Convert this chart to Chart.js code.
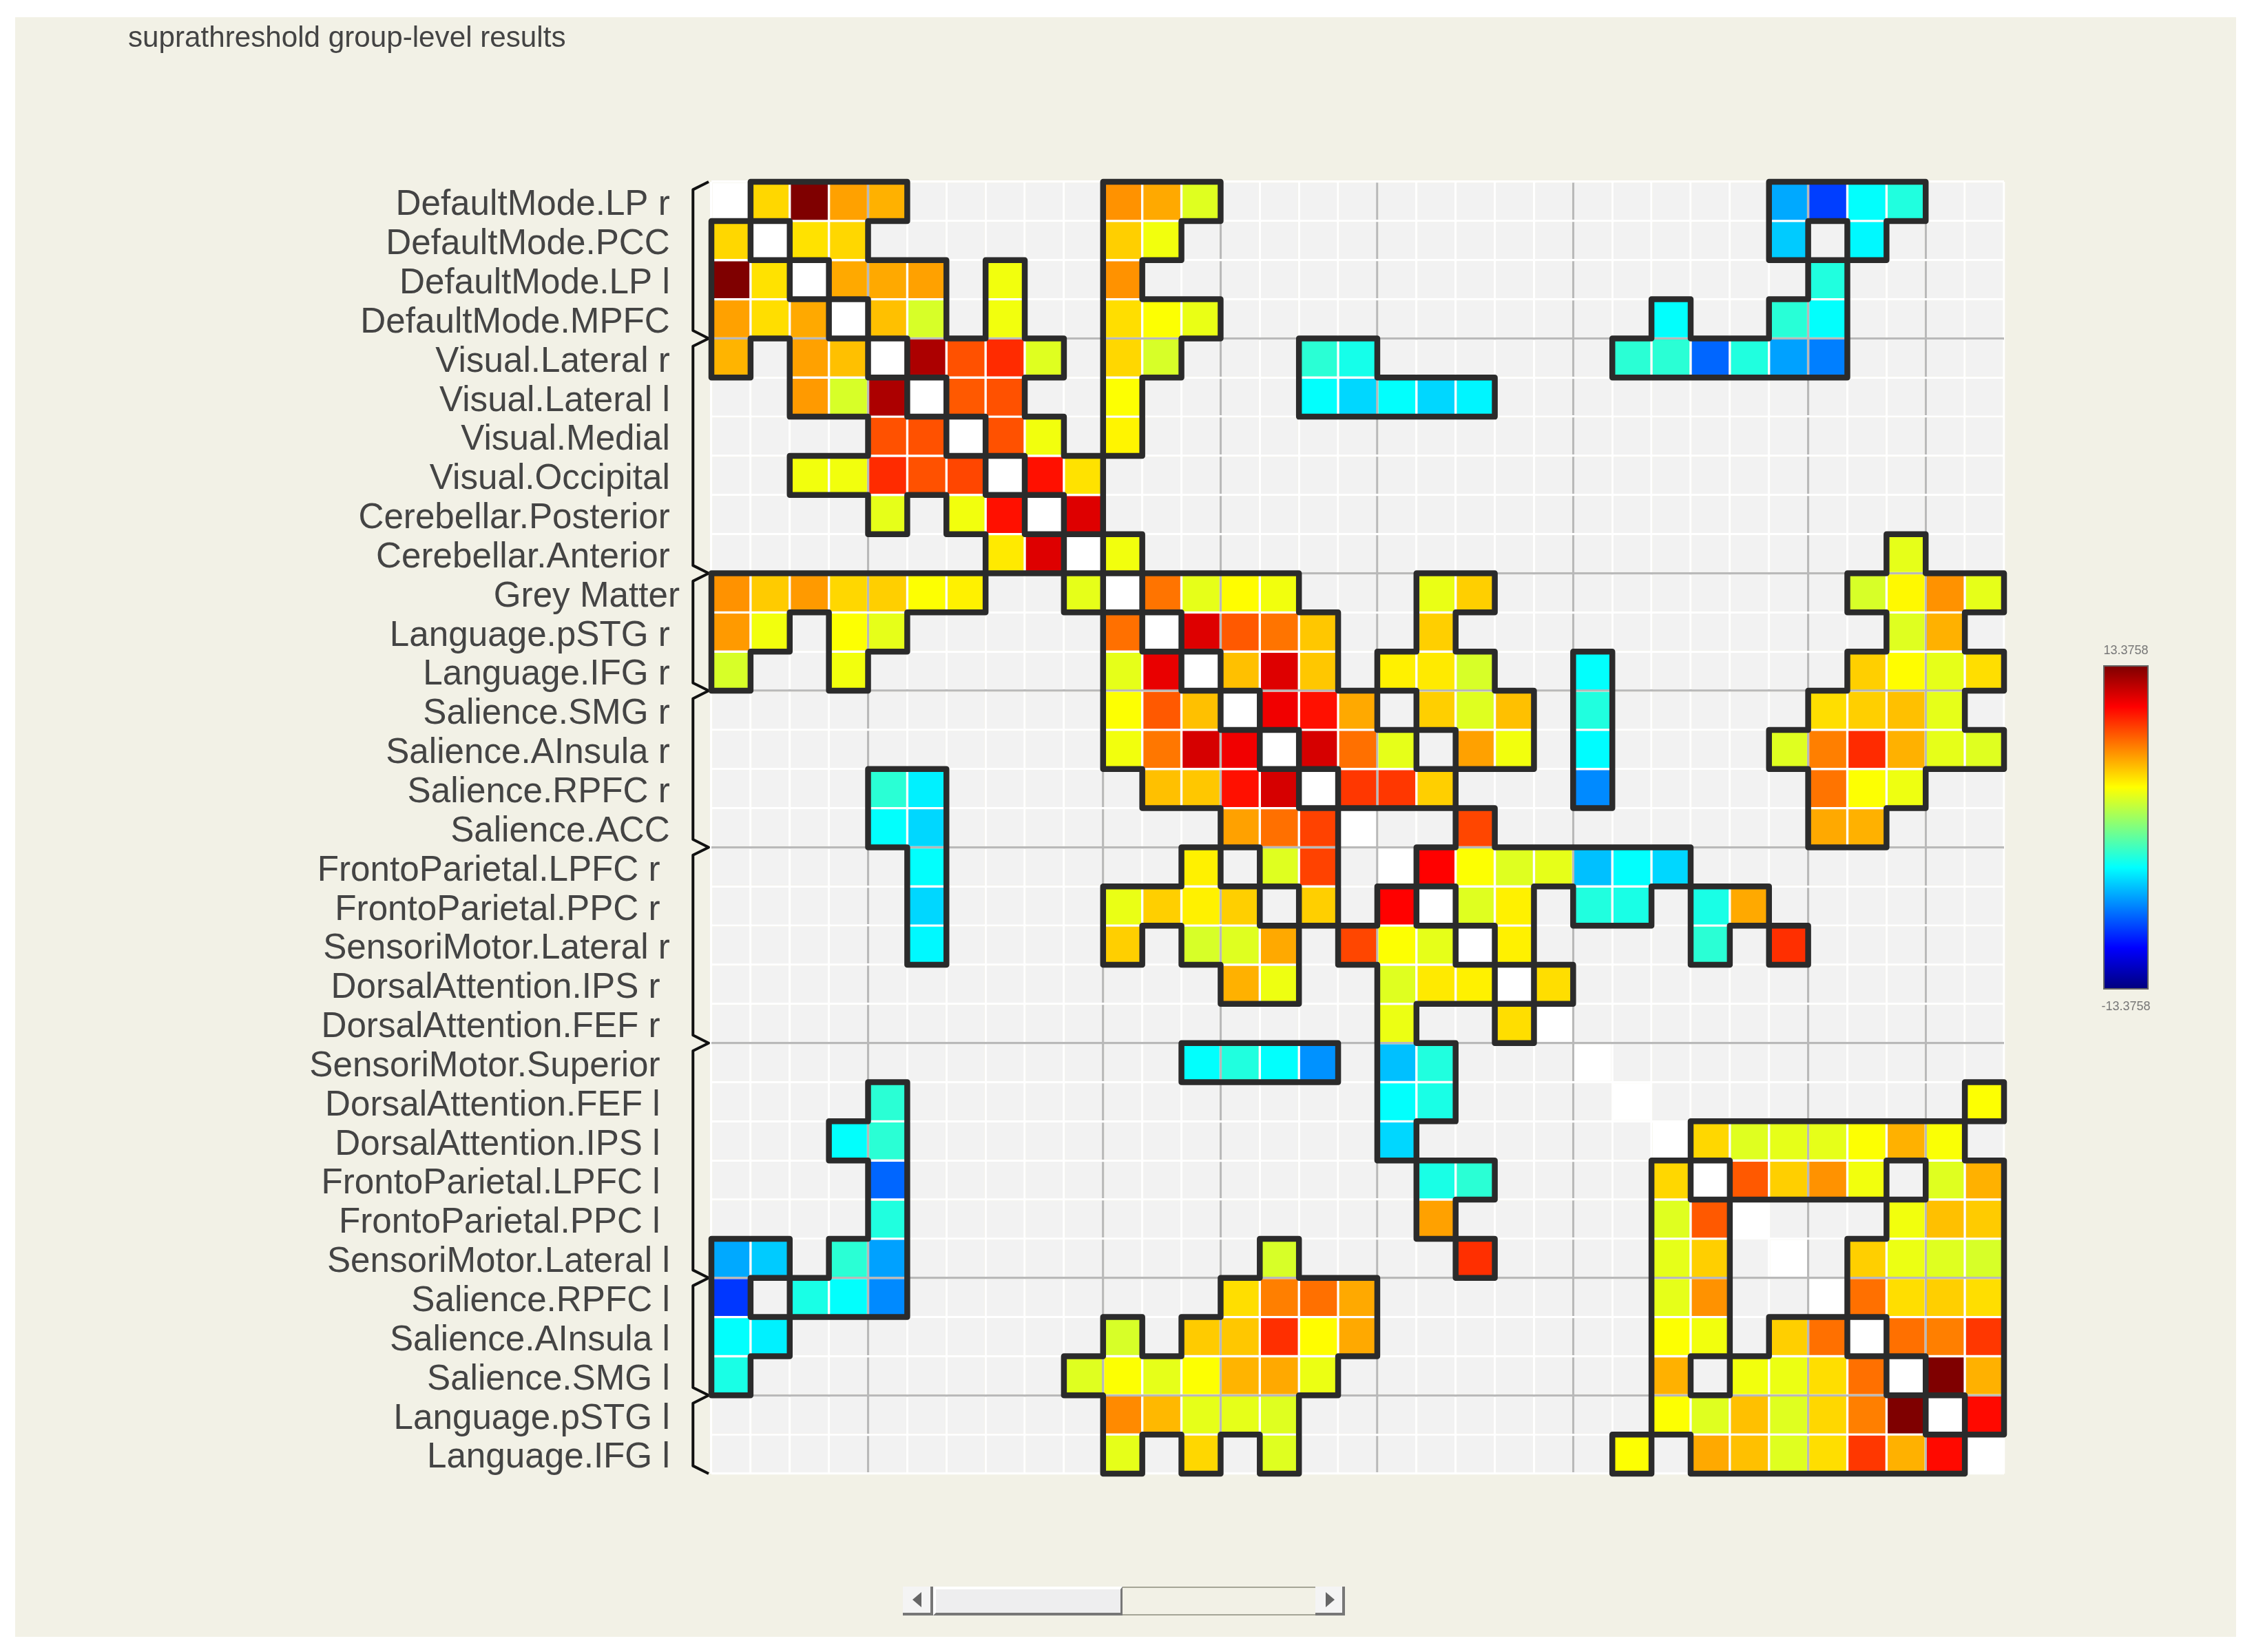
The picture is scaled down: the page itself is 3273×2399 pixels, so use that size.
<!DOCTYPE html>
<html>
<head>
<meta charset="utf-8">
<title>suprathreshold group-level results</title>
<script src="https://cdn.jsdelivr.net/npm/chart.js@4"></script>
<style>
	html, body { margin: 0; padding: 0; background: #ffffff; }
	#panel { position: absolute; left: 22px; top: 25px; width: 3225px; height: 2352px; background: #f2f1e6; }
	#graph { position: absolute; left: 0; top: 0; }
	#colorbar { position: absolute; left: 3054px; top: 966px; width: 62px; height: 467px; border: 2px solid #666666; }
	.bar_label { position: absolute; left: 2987px; width: 200px; text-align: center; font: 18px "Liberation Sans"; color: #777777; }
	.sb { position: absolute; box-sizing: border-box; }
	.arrow { position: absolute; width: 0; height: 0; border-top: 11px solid transparent; border-bottom: 11px solid transparent; }
</style>
</head>
<body>
<div id="panel"></div>
<canvas id="graph" width="3273" height="2399"></canvas>
<div id="colorbar"></div>
<div class="bar_label" id="bar_max" style="top: 934px;"></div>
<div class="bar_label" id="bar_min" style="top: 1451px;"></div>
<div class="sb" style="left: 1311px; top: 2304px; width: 44px; height: 42px; background: #f4f4f4; border-right: 4px solid #777777; border-bottom: 4px solid #777777;"><div class="arrow" style="left: 14px; top: 8px; border-right: 13px solid #666666;"></div></div>
<div class="sb" style="left: 1355px; top: 2304px; width: 275px; height: 42px; background: #eeeeef; border-top: 4px solid #ffffff; border-left: 4px solid #ffffff; border-right: 3px solid #777777; border-bottom: 4px solid #777777;"></div>
<div class="sb" style="left: 1630px; top: 2304px; width: 280px; height: 42px; border-top: 2px solid #a5a596; border-bottom: 2px solid #a5a596;"></div>
<div class="sb" style="left: 1910px; top: 2304px; width: 43px; height: 42px; background: #f4f4f4; border-right: 4px solid #777777; border-bottom: 4px solid #777777;"><div class="arrow" style="left: 15px; top: 8px; border-left: 13px solid #666666;"></div></div>
<script>
// Colour range of the bar on the right
var value_max = 13.3758;

// Row names, the trailing spaces are in the original labels
var row_labels = [
	"DefaultMode.LP r ", "DefaultMode.PCC ", "DefaultMode.LP l ", "DefaultMode.MPFC ",
	"Visual.Lateral r ", "Visual.Lateral l ", "Visual.Medial ", "Visual.Occipital ",
	"Cerebellar.Posterior ", "Cerebellar.Anterior ", "Grey Matter",
	"Language.pSTG r ", "Language.IFG r ",
	"Salience.SMG r ", "Salience.AInsula r ", "Salience.RPFC r ", "Salience.ACC ",
	"FrontoParietal.LPFC r  ", "FrontoParietal.PPC r  ", "SensoriMotor.Lateral r ",
	"DorsalAttention.IPS r  ", "DorsalAttention.FEF r  ", "SensoriMotor.Superior  ",
	"DorsalAttention.FEF l  ", "DorsalAttention.IPS l  ", "FrontoParietal.LPFC l  ",
	"FrontoParietal.PPC l  ", "SensoriMotor.Lateral l ",
	"Salience.RPFC l ", "Salience.AInsula l ", "Salience.SMG l ",
	"Language.pSTG l ", "Language.IFG l "
];

// Where one network ends and the next one starts
var group_breaks = [4, 10, 13, 17, 22, 28, 31];

// 0 is below threshold (grey), null is the white diagonal
var cell_values = [
	[null,4.4,13.4,5.8, 5.4,0,0,0,0,0, 6.2,5.6,2.5, 0,0,0,0, 0,0,0,0,0, 0,0,0,0,0,-5.6, -8.4,-3.3,-2.5, 0,0],
	[4.4,null,4.1,4.4, 0,0,0,0,0,0, 4.6,3,0, 0,0,0,0, 0,0,0,0,0, 0,0,0,0,0,-4.7, 0,-3.5,0, 0,0],
	[13.4,4.1,null,5.6, 5.6,5.8,0,3,0,0, 6.2,0,0, 0,0,0,0, 0,0,0,0,0, 0,0,0,0,0,0, -2.5,0,0, 0,0],
	[5.8,4.2,5.6,null, 5,2.3,0,3,0,0, 4.2,3.3,2.8, 0,0,0,0, 0,0,0,0,0, 0,0,-3.3,0,0,-2.3, -3.3,0,0, 0,0],
	[5.3,0,5.8,5, null,12.2,7.9,8.9,2.5,0, 4.4,2.3,0, 0,0,-2.25,-2.8, 0,0,0,0,0, 0,-2.25,-2.25,-7.35,-2.5,-5.8, -6.7,0,0, 0,0],
	[0,0,6,2.3, 12.2,null,7.7,7.9,0,0, 3.3,0,0, 0,0,-3.3,-4.4, -3.3,-4.4,-3.6,0,0, 0,0,0,0,0,0, 0,0,0, 0,0],
	[0,0,0,0, 7.9,7.9,null,7.9,3,0, 3.6,0,0, 0,0,0,0, 0,0,0,0,0, 0,0,0,0,0,0, 0,0,0, 0,0],
	[0,0,3,3, 8.9,7.9,8.2,null,9.6,4.1, 0,0,0, 0,0,0,0, 0,0,0,0,0, 0,0,0,0,0,0, 0,0,0, 0,0],
	[0,0,0,0, 2.7,0,3,9.6,null,10.9, 0,0,0, 0,0,0,0, 0,0,0,0,0, 0,0,0,0,0,0, 0,0,0, 0,0],
	[0,0,0,0, 0,0,0,3.9,10.9,null, 3,0,0, 0,0,0,0, 0,0,0,0,0, 0,0,0,0,0,0, 0,0,2.7, 0,0],
	[6.2,4.7,6,4.4, 4.6,3.3,3.7,0,0,2.7, null,7,2.7, 3.4,3,0,0, 0,2.8,4.6,0,0, 0,0,0,0,0,0, 0,2.3,3.5, 6.2,2.7],
	[6,3,0,3.3, 2.7,0,0,0,0,0, 7.1,null,10.9, 7.7,7,4.8,0, 0,4.6,0,0,0, 0,0,0,0,0,0, 0,0,2.5, 5.4,0],
	[2.3,0,0,3, 0,0,0,0,0,0, 2.7,10.6,null, 5,10.9,4.8,0, 3.7,3.9,2.3,0,0, -3.3,0,0,0,0,0, 0,4.6,3.4, 2.7,4.2],
	[0,0,0,0, 0,0,0,0,0,0, 3.3,7.7,5, null,10.4,9.6,5.6, 0,4.6,2.5,5,0, -2.5,0,0,0,0,0, 4.2,4.6,5, 2.7,0],
	[0,0,0,0, 0,0,0,0,0,0, 3,6.9,11.1, 10.4,null,11.1,7.1, 2.7,0,5.8,3,0, -3.4,0,0,0,0,2.5, 6.7,8.9,5.4, 2.7,2.5],
	[0,0,0,0, -2.25,-3.7,0,0,0,0, 0,5,4.8, 9.6,11.1,null,8.6, 8.6,4.6,0,0,0, -6.4,0,0,0,0,0, 7,3.3,2.9, 0,0],
	[0,0,0,0, -3.3,-4.4,0,0,0,0, 0,0,0, 5.8,7.1,8.3,null, 0,0,8.2,0,0, 0,0,0,0,0,0, 5.6,5.4,0, 0,0],
	[0,0,0,0, 0,-3.3,0,0,0,0, 0,0,3.7, 0,2.5,8.3,0, null,10,3.3,2.5,2.7, -5,-3.3,-4.4,0,0,0, 0,0,0, 0,0],
	[0,0,0,0, 0,-4.4,0,0,0,0, 2.8,4.6,3.7, 4.6,0,4.6,0, 10,null,2.5,3.7,0, -2.5,-2.7,0,-2.7,5.6,0, 0,0,0, 0,0],
	[0,0,0,0, 0,-3.5,0,0,0,0, 4.6,0,2.3, 2.5,5.6,0,8.2, 3.3,2.7,null,3.7,0, 0,0,0,-2.25,0,8.8, 0,0,0, 0,0],
	[0,0,0,0, 0,0,0,0,0,0, 0,0,0, 5.4,2.9,0,0, 2.5,3.9,3.7,null,4.2, 0,0,0,0,0,0, 0,0,0, 0,0],
	[0,0,0,0, 0,0,0,0,0,0, 0,0,0, 0,0,0,0, 2.85,0,0,4.2,null, 0,0,0,0,0,0, 0,0,0, 0,0],
	[0,0,0,0, 0,0,0,0,0,0, 0,0,-3.3, -2.5,-3.3,-6.2,0, -5,-2.5,0,0,0, null,0,0,0,0,0, 0,0,0, 0,0],
	[0,0,0,0, -2.25,0,0,0,0,0, 0,0,0, 0,0,0,0, -3.3,-2.7,0,0,0, 0,null,0,0,0,0, 0,0,0, 0,3.3],
	[0,0,0,-3.3, -2.25,0,0,0,0,0, 0,0,0, 0,0,0,0, -4.4,0,0,0,0, 0,0,null,4.4,2.5,2.7, 2.7,3.3,5.4, 3.2,0],
	[0,0,0,0, -7.35,0,0,0,0,0, 0,0,0, 0,0,0,0, 0,-2.7,-2.25,0,0, 0,0,4.4,null,7.7,4.6, 6.2,3,0, 2.5,5.4],
	[0,0,0,0, -2.5,0,0,0,0,0, 0,0,0, 0,0,0,0, 0,5.8,0,0,0, 0,0,2.5,7.7,null,0, 0,0,3, 5,4.7],
	[-5.6,-4.7,0,-2.25, -5.8,0,0,0,0,0, 0,0,0, 0,2.3,0,0, 0,0,8.8,0,0, 0,0,2.7,4.6,0,null, 0,4.6,2.85, 2.5,2.3],
	[-8.6,0,-2.7,-3.3, -6.4,0,0,0,0,0, 0,0,0, 4.2,6.7,7.1,5.6, 0,0,0,0,0, 0,0,2.7,6.2,0,0, null,7.1,4.2, 4.6,4.2],
	[-3.3,-3.7,0,0, 0,0,0,0,0,0, 2.3,0,4.7, 4.8,8.8,3.4,5.6, 0,0,0,0,0, 0,0,3.3,3,0,4.6, 7.1,null,7.1, 6.7,8.6],
	[-2.7,0,0,0, 0,0,0,0,0,2.5, 3.3,2.7,3.3, 5.3,5.6,2.85,0, 0,0,0,0,0, 0,0,5.4,0,3,2.85, 4.2,7.1,null, 13.4,5.4],
	[0,0,0,0, 0,0,0,0,0,0, 6.4,5.2,2.7, 2.7,2.5,0,0, 0,0,0,0,0, 0,0,3.3,2.5,5,2.5, 4.4,6.7,13.4, null,9.8],
	[0,0,0,0, 0,0,0,0,0,0, 2.7,0,4.4, 0,2.5,0,0, 0,0,0,0,0, 0,3.3,0,5.6,5,2.5, 4.2,8.6,5.4, 9.8,null]
];

var n = row_labels.length;

// Jet colormap, same as the bar on the right
function jet(value) {
	var t = (value + value_max) / (2 * value_max);
	var channel = (centre) => Math.round(255 * Math.min(1, Math.max(0, 1.5 - Math.abs(4 * t - centre))));
	return "rgb(" + channel(3) + "," + channel(2) + "," + channel(1) + ")";
}

function cellColor(value) {
	if (value === null) return "#ffffff";
	if (value === 0) return "#f2f2f2";
	return jet(value);
}

function isSignificant(row, col) {
	if (row < 0 || col < 0 || row >= n || col >= n) return false;
	var value = cell_values[row][col];
	return value !== null && value !== 0;
}

// Cells
var cell_points = [];
var cell_colors = [];
cell_values.forEach((values, row) => {
	values.forEach((value, col) => {
		cell_points.push({ x: col + 0.5, y: row + 0.5 });
		cell_colors.push(cellColor(value));
	});
});

// Outline runs along every edge between a suprathreshold cell and anything else
var outline_points = [];
function addEdge(x1, y1, x2, y2) {
	outline_points.push({ x: x1, y: y1 }, { x: x2, y: y2 }, { x: NaN, y: NaN });
}
for (var row = 0; row < n; row++) {
	for (var col = 0; col < n; col++) {
		if (!isSignificant(row, col)) continue;
		if (!isSignificant(row - 1, col)) addEdge(col, row, col + 1, row);
		if (!isSignificant(row + 1, col)) addEdge(col, row + 1, col + 1, row + 1);
		if (!isSignificant(row, col - 1)) addEdge(col, row, col, row + 1);
		if (!isSignificant(row, col + 1)) addEdge(col + 1, row, col + 1, row + 1);
	}
}

// Curly brace left of the rows, one tip per break
var brace_tip = -0.07;
var brace_back = -0.47;
var brace_points = [{ x: brace_tip, y: 0 }, { x: brace_back, y: 0.2 }];
group_breaks.forEach((at) => {
	brace_points.push({ x: brace_back, y: at - 0.2 }, { x: brace_tip, y: at }, { x: brace_back, y: at + 0.2 });
});
brace_points.push({ x: brace_back, y: n - 0.2 }, { x: brace_tip, y: n });

function gridColor(ctx) {
	return ctx.tick && group_breaks.includes(ctx.tick.value) ? "#b9b9b9" : "#ffffff";
}

var graph = new Chart(document.getElementById("graph").getContext("2d"), {
	type: "scatter",
	data: {
		datasets: [
			{
				label: "outline",
				data: outline_points,
				showLine: true,
				order: 0,
				clip: false,
				borderColor: "#2b2b2b",
				borderWidth: 8.5,
				borderCapStyle: "round",
				pointRadius: 0
			},
			{
				label: "groups",
				data: brace_points,
				showLine: true,
				order: 1,
				clip: false,
				borderColor: "#111111",
				borderWidth: 4,
				borderJoinStyle: "round",
				pointRadius: 0
			},
			{
				label: "cells",
				data: cell_points,
				order: 2,
				pointStyle: "rect",
				pointRadius: 37.8,
				pointBorderWidth: 0,
				pointBackgroundColor: cell_colors
			}
		]
	},
	options: {
		responsive: false,
		animation: false,
		layout: {
			padding: { left: 186, right: 363, top: 0, bottom: 259 }
		},
		plugins: {
			legend: { display: false },
			tooltip: { enabled: false },
			title: {
				display: true,
				text: "suprathreshold group-level results",
				align: "start",
				color: "#444444",
				font: { family: "Liberation Sans", size: 42.2, weight: "normal" },
				padding: { top: 31, bottom: 182.4 }
			}
		},
		scales: {
			x: {
				type: "linear",
				position: "bottom",
				min: 0,
				max: n,
				afterFit: (axis) => { axis.height = 0; },
				border: { display: false },
				ticks: { display: false, stepSize: 1, autoSkip: false },
				grid: { color: gridColor, lineWidth: 3.3, drawTicks: false }
			},
			y: {
				type: "linear",
				position: "right",
				min: 0,
				max: n,
				reverse: true,
				afterFit: (axis) => { axis.width = 0; },
				border: { display: false },
				ticks: { display: false, stepSize: 1, autoSkip: false },
				grid: { color: gridColor, lineWidth: 3.3, drawTicks: false }
			},
			row_names: {
				type: "linear",
				position: "left",
				min: 0,
				max: n,
				reverse: true,
				// The names sit a little under the middle of their row
				afterBuildTicks: (axis) => {
					axis.ticks = row_labels.map((label, i) => ({ value: i + 0.6 }));
				},
				afterFit: (axis) => { axis.width = 847; },
				border: { display: false },
				grid: { display: false, drawTicks: false },
				ticks: {
					autoSkip: false,
					maxRotation: 0,
					padding: 46,
					color: "#444444",
					font: { family: "Liberation Sans", size: 51.2 },
					callback: function(value, index) {
						return row_labels[index];
					}
				}
			}
		}
	}
});

// Colour bar, top is the maximum
var jet_stops = [value_max, value_max * 0.75, value_max * 0.25, -value_max * 0.25, -value_max * 0.75, -value_max];
document.getElementById("colorbar").style.background = "linear-gradient(to bottom, " +
	jet_stops.map((v) => jet(v) + " " + (50 - v / value_max * 50) + "%").join(", ") + ")";
document.getElementById("bar_max").textContent = value_max.toFixed(4);
document.getElementById("bar_min").textContent = (-value_max).toFixed(4);
</script>
</body>
</html>
